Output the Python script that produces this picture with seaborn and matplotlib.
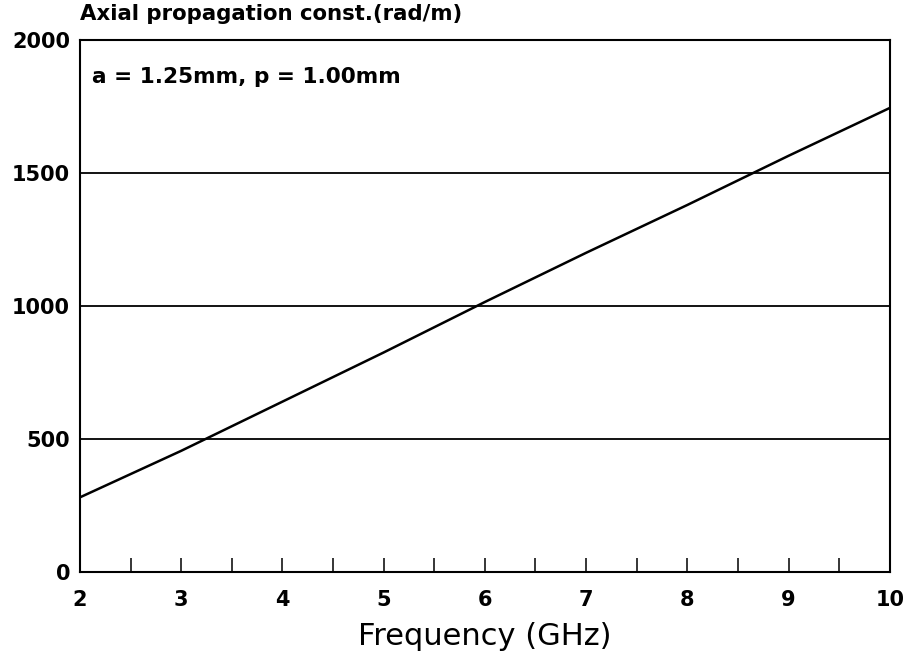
import matplotlib
matplotlib.use("Agg")
import matplotlib.pyplot as plt
import seaborn as sns
import pandas as pd
from matplotlib.ticker import MultipleLocator

freq_ghz = [2, 3, 4, 5, 6, 7, 8, 9, 10]
beta = [280, 455, 640, 825, 1015, 1200, 1380, 1565, 1745]
x_ticks = [2, 3, 4, 5, 6, 7, 8, 9, 10]
y_ticks = [0, 500, 1000, 1500, 2000]

sns.set_theme(style="white")
plt.rcParams['font.family'] = ['DejaVu Sans']

df = pd.DataFrame({"f": freq_ghz, "b": beta})

fig = plt.figure(figsize=(9.08, 6.58), dpi=100)
ax = fig.add_axes([0.088, 0.131, 0.892, 0.808])

for yv in [500, 1000, 1500]:
    ax.axhline(yv, color="black", lw=1.3, zorder=1)

sns.lineplot(data=df, x="f", y="b", color="black", lw=1.8, ax=ax, zorder=3)

ax.set_xlim(2, 10)
ax.set_ylim(0, 2000)
ax.set_xticks(x_ticks)
ax.set_yticks(y_ticks)
ax.xaxis.set_minor_locator(MultipleLocator(0.5))
ax.tick_params(axis="x", which="both", direction="in", length=10, width=1.1,
               color="black", bottom=True, top=False, pad=13, labelsize=15)
ax.tick_params(axis="y", which="both", length=0, pad=7, labelsize=15)
for lab in ax.get_xticklabels() + ax.get_yticklabels():
    lab.set_fontweight("bold")
    lab.set_color("black")

for s in ax.spines.values():
    s.set_color("black")
    s.set_linewidth(1.5)
    s.set_visible(True)

ax.set_xlabel("Frequency (GHz)", fontsize=22, color="black", labelpad=9)
ax.set_ylabel("")
fig.text(0.088, 0.978, "Axial propagation const.(rad/m)", fontsize=15.3,
         fontweight="bold", ha="left", va="center", color="black")
ax.text(0.015, 0.95, "a = 1.25mm, p = 1.00mm", transform=ax.transAxes,
        fontsize=15.6, fontweight="bold", ha="left", va="top", color="black")

fig.savefig("out.png", dpi=100)
